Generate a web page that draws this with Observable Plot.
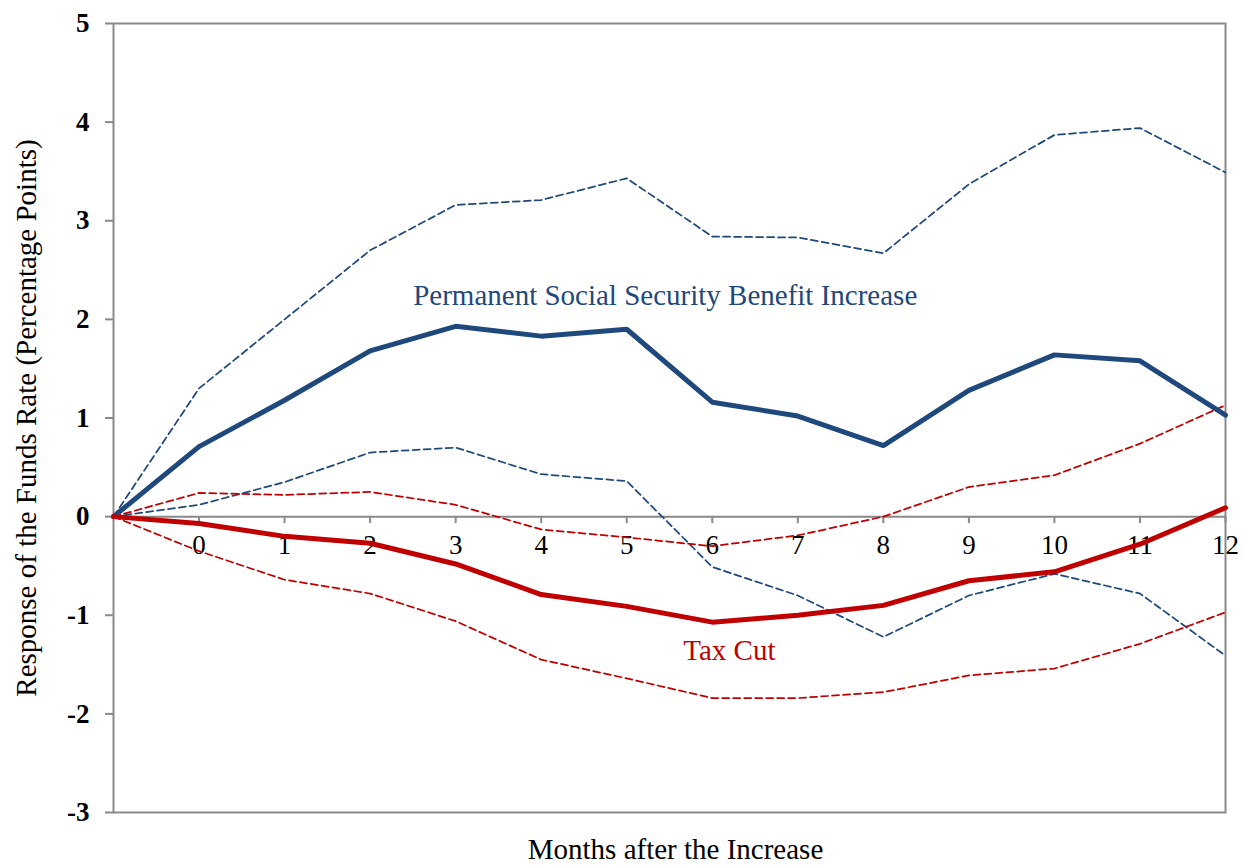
<!DOCTYPE html>
<html>
<head>
<meta charset="utf-8">
<script src="https://cdn.jsdelivr.net/npm/d3@7"></script>
<script src="https://cdn.jsdelivr.net/npm/@observablehq/plot@0.6"></script>
<style>
  html, body { margin: 0; padding: 0; background: #fff; }
  #chart svg { display: block; }
</style>
</head>
<body>
<div id="chart"></div>
<script>
// Months after the increase; -1 is the pre-shock origin (unlabelled)
const months = [-1, 0, 1, 2, 3, 4, 5, 6, 7, 8, 9, 10, 11, 12];
const xTicks = [0, 1, 2, 3, 4, 5, 6, 7, 8, 9, 10, 11, 12];
const yTicks = [-3, -2, -1, 0, 1, 2, 3, 4, 5];

// Permanent Social Security benefit increase: response and confidence band
const ssResponse = [0, 0.71, 1.18, 1.68, 1.93, 1.83, 1.90, 1.16, 1.02, 0.72, 1.28, 1.64, 1.58, 1.03];
const ssUpper    = [0, 1.30, 2.00, 2.70, 3.16, 3.21, 3.43, 2.84, 2.83, 2.67, 3.37, 3.87, 3.94, 3.49];
const ssLower    = [0, 0.12, 0.35, 0.65, 0.70, 0.43, 0.36, -0.51, -0.80, -1.22, -0.80, -0.58, -0.78, -1.41];

// Tax cut: response and confidence band
const taxResponse = [0, -0.07, -0.20, -0.27, -0.48, -0.79, -0.91, -1.07, -1.00, -0.90, -0.65, -0.56, -0.28, 0.09];
const taxUpper    = [0, 0.24, 0.22, 0.25, 0.12, -0.13, -0.21, -0.30, -0.19, 0.00, 0.30, 0.42, 0.74, 1.13];
const taxLower    = [0, -0.35, -0.64, -0.78, -1.06, -1.45, -1.64, -1.84, -1.84, -1.78, -1.61, -1.54, -1.29, -0.97];

// Series labels and where they sit (data coordinates)
const seriesLabels = [
  {text: "Permanent Social Security Benefit Increase", x: 5.45, y: 2.24, color: "#1F497D"},
  {text: "Tax Cut", x: 6.2, y: -1.36, color: "#C00000"}
];

const BLUE = "#1F497D";
const RED = "#C00000";
const GREY = "#898989";

const width = 1243, height = 865;
const marginLeft = 113, marginRight = 18, marginTop = 23, marginBottom = 53;
const yDomain = [-3, 5];

// pixel offset from the bottom of the frame to the zero line
const yPix = d3.scaleLinear().domain(yDomain).range([height - marginBottom, marginTop]);
const zeroOffset = yPix(0) - (height - marginBottom);

const series = (vals) => months.map((m, i) => ({month: m, value: vals[i]}));

const chart = Plot.plot({
  width, height, marginLeft, marginRight, marginTop, marginBottom,
  style: {fontFamily: "'Liberation Serif', serif", fontSize: "27px", background: "#fff", color: "#000"},
  x: {domain: [-1, 12], axis: null},
  y: {domain: yDomain, axis: null},
  marks: [
    Plot.frame({stroke: GREY, strokeWidth: 2}),
    Plot.ruleY([0], {stroke: GREY, strokeWidth: 2}),
    Plot.axisY({
      ticks: yTicks, tickFormat: (d) => String(d), tickSize: 8, tickPadding: 16,
      stroke: GREY, strokeWidth: 2, fill: "#000", fontWeight: "bold", fontSize: 27
    }),
    Plot.axisX({
      anchor: "bottom", ticks: xTicks, tickFormat: (d) => String(d), tickSize: 7, tickPadding: 11,
      dy: zeroOffset, stroke: GREY, strokeWidth: 2, fill: "#000", fontSize: 27
    }),
    // confidence bands
    Plot.line(series(ssUpper), {x: "month", y: "value", stroke: BLUE, strokeWidth: 1.75, strokeDasharray: "7,4"}),
    Plot.line(series(ssLower), {x: "month", y: "value", stroke: BLUE, strokeWidth: 1.75, strokeDasharray: "7,4"}),
    Plot.line(series(taxUpper), {x: "month", y: "value", stroke: RED, strokeWidth: 1.75, strokeDasharray: "7,4"}),
    Plot.line(series(taxLower), {x: "month", y: "value", stroke: RED, strokeWidth: 1.75, strokeDasharray: "7,4"}),
    // point responses
    Plot.line(series(ssResponse), {x: "month", y: "value", stroke: BLUE, strokeWidth: 5, strokeLinejoin: "miter"}),
    Plot.line(series(taxResponse), {x: "month", y: "value", stroke: RED, strokeWidth: 5, strokeLinejoin: "miter"}),
    // series labels
    Plot.text(seriesLabels, {
      x: "x", y: "y", text: "text", fill: "color", textAnchor: "middle", lineAnchor: "middle", fontSize: 29
    }),
    // axis titles
    Plot.text(["Months after the Increase"], {
      frameAnchor: "bottom", dx: 6, dy: 46, lineAnchor: "bottom", fill: "#000", fontSize: 29
    }),
    Plot.text(["Response of the Funds Rate (Percentage Points)"], {
      frameAnchor: "left", dx: -87, rotate: -90, lineAnchor: "middle", textAnchor: "middle", fill: "#000", fontSize: 29
    })
  ]
});

document.getElementById("chart").appendChild(chart);
</script>
</body>
</html>
